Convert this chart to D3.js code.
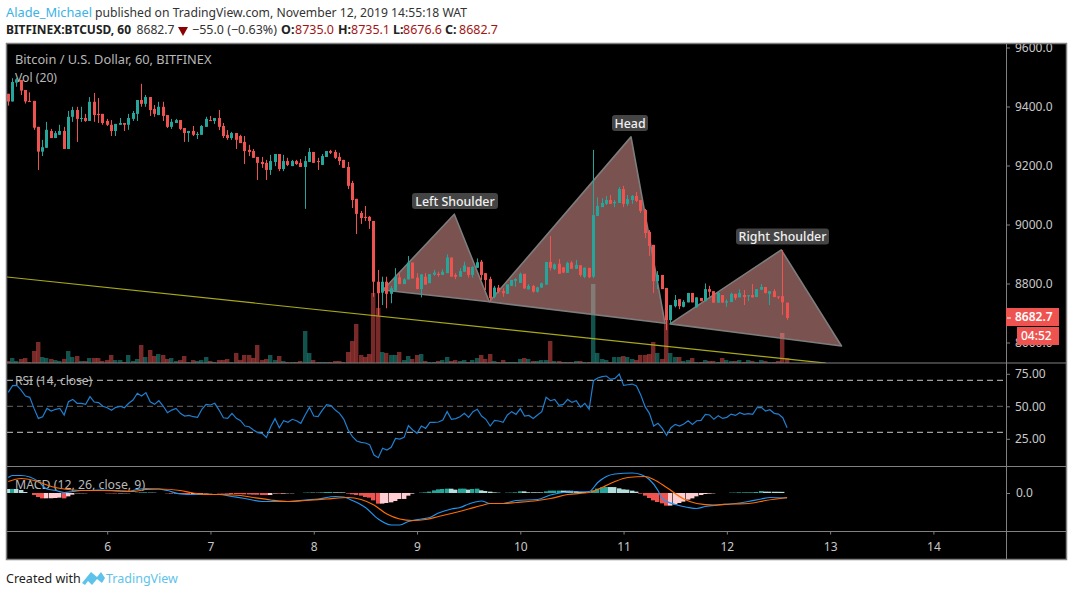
<!DOCTYPE html>
<html><head><meta charset="utf-8">
<script src="https://cdnjs.cloudflare.com/ajax/libs/d3/7.8.5/d3.min.js"></script>
<style>html,body{margin:0;padding:0;background:#fff}svg{display:block}text{font-family:"Noto Sans",sans-serif}</style>
</head><body><svg id="c" width="1073" height="596"></svg>
<script>
// Hourly candles: index 0 is day 5, 01:00
const opens=[9443,9417,9481,9490,9456,9419,9419,9331,9247,9260,
9317,9293,9304,9317,9256,9365,9388,9358,9361,9351,
9416,9375,9375,9351,9338,9317,9338,9344,9338,9358,
9375,9422,9409,9432,9392,9371,9399,9371,9331,9344,
9354,9327,9310,9317,9304,9304,9331,9354,9351,9361,
9334,9304,9293,9310,9300,9280,9253,9249,9229,9212,
9209,9185,9212,9239,9188,9215,9198,9215,9209,9195,
9212,9246,9215,9202,9229,9249,9246,9229,9219,9195,
9141,9087,9039,9026,9026,9012,8806,8769,8806,8765,
8776,8821,8798,8814,8871,8820,8781,8823,8801,8830,
8833,8829,8835,8888,8829,8823,8840,8856,8829,8853,
8874,8835,8815,8755,8786,8775,8765,8792,8809,8802,
8833,8780,8792,8772,8786,8796,8873,8849,8867,8855,
8836,8871,8850,8862,8823,8853,8823,9029,9059,9070,
9083,9072,9073,9120,9070,9083,9097,9083,9049,8975,
8931,8808,8829,8785,8676,8723,8747,8721,8736,8768,
8719,8751,8740,8781,8774,8735,8761,8735,8737,8765,
8753,8761,8757,8761,8754,8779,8788,8765,8774,8756,
8757,8735];
const highs=[9443,9496,9496,9490,9456,9448,9419,9331,9287,9348,
9324,9317,9338,9331,9385,9399,9399,9399,9375,9432,
9446,9429,9375,9358,9354,9341,9361,9344,9375,9385,
9422,9477,9439,9432,9405,9416,9416,9371,9358,9358,
9354,9327,9317,9334,9314,9337,9365,9368,9361,9388,
9344,9320,9314,9310,9304,9300,9270,9256,9229,9229,
9219,9236,9239,9239,9236,9226,9219,9219,9222,9232,
9259,9246,9226,9239,9249,9253,9253,9243,9219,9212,
9148,9087,9046,9063,9029,9012,8846,8823,8823,8792,
8852,8835,8818,8893,8871,8835,8831,8835,8832,8846,
8840,8848,8899,8888,8835,8852,8874,8856,8859,8885,
8880,8835,8823,8792,8795,8784,8797,8812,8818,8837,
8833,8798,8795,8789,8803,8873,8961,8868,8883,8855,
8874,8876,8880,8862,8854,8853,9253,9092,9089,9097,
9100,9083,9127,9131,9100,9100,9110,9083,9053,8981,
8931,8842,8829,8785,8727,8761,8747,8744,8768,8768,
8753,8751,8800,8792,8774,8772,8761,8746,8769,8765,
8780,8778,8760,8798,8781,8798,8788,8774,8781,8756,
8913,8735];
const lows=[9403,9417,9467,9439,9410,9417,9321,9185,9232,9260,
9293,9293,9304,9256,9256,9348,9280,9348,9348,9351,
9348,9344,9338,9334,9300,9300,9338,9317,9321,9351,
9351,9399,9399,9368,9365,9371,9351,9327,9324,9344,
9320,9280,9280,9300,9290,9304,9331,9351,9341,9320,
9293,9287,9287,9256,9276,9205,9232,9226,9151,9192,
9151,9168,9198,9181,9181,9198,9198,9202,9195,9053,
9212,9209,9185,9202,9229,9239,9222,9202,9192,9120,
9056,8968,9002,9012,8985,8755,8688,8727,8716,8733,
8776,8798,8798,8814,8817,8781,8753,8796,8801,8826,
8823,8829,8835,8823,8815,8823,8840,8820,8820,8853,
8812,8778,8739,8750,8767,8755,8765,8792,8789,8802,
8783,8780,8769,8769,8786,8796,8844,8846,8833,8835,
8836,8850,8850,8823,8818,8818,8818,9029,9059,9066,
9070,9059,9073,9059,9063,9070,9076,9039,8954,8893,
8768,8781,8781,8642,8662,8719,8713,8719,8736,8736,
8719,8740,8740,8755,8735,8735,8735,8721,8737,8744,
8753,8727,8740,8753,8754,8779,8766,8727,8754,8747,
8693,8677];
const closes=[9417,9483,9492,9454,9417,9417,9328,9247,9262,9321,
9293,9310,9317,9256,9365,9388,9358,9361,9351,9416,
9371,9371,9344,9338,9317,9341,9344,9338,9361,9378,
9422,9409,9432,9388,9375,9399,9368,9331,9348,9354,
9324,9310,9317,9304,9307,9334,9358,9351,9361,9331,
9300,9293,9310,9287,9276,9249,9246,9226,9209,9205,
9185,9215,9239,9188,9215,9202,9215,9205,9195,9215,
9246,9209,9212,9232,9249,9243,9226,9215,9192,9131,
9083,9036,9022,9022,9012,8806,8767,8806,8765,8784,
8823,8798,8814,8871,8817,8781,8831,8796,8832,8837,
8829,8840,8888,8823,8823,8842,8861,8829,8856,8872,
8829,8812,8750,8786,8772,8767,8797,8812,8815,8833,
8783,8792,8772,8787,8801,8873,8853,8865,8833,8837,
8870,8850,8863,8829,8854,8821,9032,9063,9073,9083,
9070,9077,9120,9070,9086,9097,9080,9046,8971,8927,
8808,8829,8781,8676,8727,8744,8723,8738,8768,8736,
8753,8740,8781,8772,8735,8768,8735,8740,8765,8751,
8768,8754,8760,8753,8781,8788,8768,8774,8754,8753,
8736,8683];
const volumes=[2,5,2,4,5,1,12,21,6,5,
4,3,2,4,12,6,7,2,2,5,
5,5,2,3,8,3,3,1,8,2,
4,18,6,13,7,9,8,4,5,2,
3,7,1,3,2,3,6,2,1,3,
3,4,1,10,3,8,8,5,18,3,
4,8,3,7,2,1,1,1,2,32,
10,3,1,1,1,1,2,2,1,11,
22,39,8,6,9,70,55,11,10,8,
8,11,3,7,4,8,9,2,1,1,
2,3,6,2,3,2,3,1,3,5,
8,4,9,2,1,3,1,1,1,4,
5,4,2,2,3,3,22,2,2,1,
1,1,2,2,1,1,79,10,4,3,
1,6,6,7,6,4,3,8,8,9,
21,10,4,43,10,6,6,2,3,5,
1,1,3,2,2,1,5,3,2,2,
3,1,3,2,1,3,2,1,1,2,
30,5];
const rsi=[60.7,65.9,66.1,62.5,57.9,56.9,48.4,40.7,42,48.4,
46.4,47.7,48.4,43.3,53.5,55.3,52.3,52.3,51.5,57.4,
53.3,52.8,50,48.9,46.9,49.2,50,48.9,52.3,54.8,
60,57.9,60.5,53.5,51.5,54.3,50.2,45.1,47.1,48.4,
44.6,42.5,43,42,41.5,47.7,51.5,51,52.3,47.1,
41.2,40.7,44.6,40.7,38.9,34.8,34.3,31.8,29.7,29.2,
26.1,34.3,40.5,33.5,38.9,37.7,40,38.9,36.9,43.3,
49.2,42.5,42,47.1,51.2,50.5,47.1,44.6,40,31.8,
26.6,23.3,22.3,21.8,20.5,12.5,10.5,17.7,16.4,18.4,
25.3,24.8,26.1,35.1,31.8,29.2,34.8,33,37.7,37.7,
37.9,39.4,45.9,40,40.5,42,44.6,41.5,45.9,47.7,
42.5,40,34.8,39.2,38.7,37.7,43.3,45.9,43.8,48.2,
42.5,43,40.7,43.3,45.9,56.9,54.3,55.3,50.7,51.5,
55.3,53,54.3,49.4,52.3,47.7,69.7,71.8,72.8,73.3,
70.7,71.5,74.8,66.1,66.6,67.1,65.6,58.7,49.7,44.6,
34.8,36.9,33,27.6,33.5,36.1,34.8,36.4,38.9,36.1,
38.9,39.2,43.8,43.3,40,42.8,40.7,41.5,44,43,
45.1,43.8,44.3,43.8,48.9,49.2,46.4,47.4,44.6,44,
41.2,33.5];
const hist=[8,8.1,8,6,2,0,-4,-8,-10.7,-10.6,
-10.5,-10,-9.3,-10.7,-6.7,-3.3,-.7,-.6,-.5,0,
0,0,0,-.7,-.8,-.9,-.8,-.6,-.5,0,
.7,1.3,1.4,.7,.6,0,0,-.7,-1.3,-1.4,
-2,-2.1,-2.2,-2.1,-2,-1.5,-1,-.5,0,-.7,
-.8,-1.3,-2,-2.1,-2.2,-2.7,-2.8,-3.3,-3.4,-4,
-4.1,-4,-1,-1.3,-1.2,-.7,-.6,0,0,.7,
.8,.7,.6,1.3,2,2.1,1.3,1.2,1.1,-1.3,
-2.7,-4,-5.3,-8,-9.3,-14.7,-21.3,-21.2,-20,-18.7,
-16,-12,-11.9,-5.3,-1.3,0,.7,1.3,2.7,5.3,
7.3,8,8.7,8.6,6.7,8.7,8.7,6.7,8,8.7,
5.3,4,2.7,1.3,.7,0,.7,.7,1.3,3.4,
3.3,1.5,1.4,1.3,1.2,3.3,4.7,4.7,4.8,4.7,
4.6,4.5,4,2,1.9,.7,5.3,8.7,11.3,12,
11.9,11.8,9.3,7.3,6.7,4.7,2.7,-1.3,-5.3,-10,
-14.7,-18,-20.7,-25.3,-25.2,-22.7,-20,-17.3,-13.3,-10.7,
-6.7,-4,-2,-1.3,-.7,0,0,0,.7,.7,
1.3,1.3,1.3,1.3,2,4,2.7,2.6,2.5,2.4,
2.3,0];
// MACD and signal lines, read at the candle indexes given
const macdIdx=[0,1,3,5,7,9,11,13,15,17,19,21,24,28,30,32,35,37,40,43,46,49,52,55,59,65,69,72,76,78,80,83,86,89,91,93,96,98,100,103,105,107,110,112,115,118,123,126,130,135,137,139,141,145,147,149,151,152,155,158,160,162,165,169,172,175,177,181];
const macdVal=[31,35,35,32,23,8,5,1,3,5,5,6,5,3,7,9,8,5,-2,-3,-3,-3,-7,-11,-17,-17,-14,-12,-7,-8,-15,-29,-52,-64,-64,-57,-52,-49,-40,-32,-29,-22,-16,-21,-21,-15,-13,-4,2,3,21,33,38,40,37,27,5,-11,-23,-29,-31,-27,-24,-21,-17,-12,-9,-10];
const signalIdx=[0,3,6,9,11,14,17,21,26,29,32,35,40,43,46,49,54,57,61,65,69,74,79,82,85,88,91,94,97,100,103,107,110,112,115,118,123,126,130,135,138,141,144,148,150,153,157,160,164,168,172,176,181];
const signalVal=[23,29,25,16,11,7,5,5,4,3,7,8,5,0,-3,-3,-5,-9,-14,-17,-15,-12,-9,-13,-24,-42,-52,-55,-53,-47,-41,-32,-25,-21,-21,-19,-15,-11,-3,1,11,23,31,33,27,11,-12,-21,-24,-22,-21,-15,-9];
// Drawings: [day, price]
const leftShoulder=[[8.67,8778],[9.361,9035],[9.70,8738]];
const headShape=[[9.70,8738],[11.072,9297],[11.401,8665]];
const rightShoulder=[[11.45,8663],[12.527,8914],[13.11,8588]];
const trendLine=[[5.03,8822],[12.96,8530]];
const shapeLabels=["Left Shoulder","Head","Right Shoulder"];
const priceTicks=[9600,9400,9200,9000,8800,8600];
const rsiTicks=[75,50,25];
const rsiLevels=[70,50,30];
const dayTicks=[6,7,8,9,10,11,12,13,14];

const svg=d3.select("#c");
const L=7,R=1006,AR=1066,T=44,P1=363,P2=466.5,P3=531.5,B=559;
const x=d3.scaleLinear().domain([6,14]).range([107.2,933.4]);
const day=i=>5+(i+1)/24;
const y=d3.scaleLinear().domain([8800,9600]).range([283.5,47.5]);
const yV=d3.scaleLinear().domain([0,100]).range([P1,P1-100]);
const yR=d3.scaleLinear().domain([30,70]).range([432.3,380.3]);
const yM=d3.scaleLinear().domain([-40,40]).range([513,473]);
const RED="#ef5350",TEAL="#26a69a";

svg.append("rect").attr("x",L).attr("y",T).attr("width",AR-L).attr("height",B-T).attr("fill","#000");
const defs=svg.append("defs");
[["p1",T,P1],["p2",P1,P2],["p3",P2,P3]].forEach(([id,a,b])=>defs.append("clipPath").attr("id",id).append("rect").attr("x",L).attr("y",a).attr("width",R-L).attr("height",b-a));
const idx=d3.range(opens.length);
const up=i=>closes[i]>=opens[i];

// legends under the marks
const legend=[["Bitcoin / U.S. Dollar, 60, BITFINEX",15,64,12.8],["Vol (20)",15,82,12.2],["RSI (14, close)",15,385,12],["MACD (12, 26, close, 9)",15,489,12.3]];
svg.append("g").selectAll("text").data(legend).join("text").attr("x",d=>d[1]).attr("y",d=>d[2]).attr("fill","#b8b8b8").attr("font-size",d=>d[3]).text(d=>d[0]);

// price pane
const g1=svg.append("g").attr("clip-path","url(#p1)");
g1.selectAll("rect.v").data(idx).join("rect").attr("class","v")
 .attr("x",i=>Math.floor(x(day(i)))-2).attr("width",4.4)
 .attr("y",i=>yV(volumes[i])).attr("height",i=>P1-yV(volumes[i]))
 .attr("fill",i=>up(i)?"rgba(38,166,154,.5)":"rgba(239,83,80,.5)");
const line=d3.line().x(d=>x(d[0])).y(d=>y(d[1]));
[leftShoulder,headShape,rightShoulder].forEach(s=>{
 g1.append("path").attr("d",line(s)+"Z").attr("fill","rgba(244,164,160,.5)").attr("stroke","#7d7d7d").attr("stroke-width",1.6).attr("stroke-linejoin","round");
});
g1.append("path").attr("d",line(trendLine)).attr("fill","none").attr("stroke","#a9a918").attr("stroke-width",1.2);
g1.selectAll("rect.w").data(idx).join("rect").attr("class","w")
 .attr("x",i=>Math.floor(x(day(i)))).attr("width",1)
 .attr("y",i=>y(highs[i])).attr("height",i=>Math.max(1,y(lows[i])-y(highs[i])))
 .attr("fill",i=>up(i)?TEAL:RED);
g1.selectAll("rect.b").data(idx).join("rect").attr("class","b")
 .attr("x",i=>Math.floor(x(day(i)))-1).attr("width",3)
 .attr("y",i=>y(Math.max(opens[i],closes[i]))).attr("height",i=>Math.max(1,Math.abs(y(opens[i])-y(closes[i]))))
 .attr("fill",i=>up(i)?TEAL:RED);

// shape labels
const labelBox=[[455,201,86],[630,123,36],[782.5,236.5,93]];
shapeLabels.forEach((t,k)=>{
 const [xc,cy,w]=labelBox[k];
 svg.append("rect").attr("x",xc-w/2).attr("y",cy-8).attr("width",w).attr("height",16).attr("rx",3).attr("fill","#444");
 svg.append("text").attr("x",xc).attr("y",cy+4.5).attr("text-anchor","middle").attr("fill","#f0f0f0").attr("font-size",12.4).attr("font-weight",500).text(t);
});

// RSI pane
const g2=svg.append("g").attr("clip-path","url(#p2)");
rsiLevels.forEach(v=>g2.append("line").attr("x1",L).attr("x2",R).attr("y1",yR(v)).attr("y2",yR(v)).attr("stroke",v==50?"#666":"#c8c8c8").attr("stroke-dasharray","6,4"));
g2.append("path").attr("d",d3.line().x(i=>x(day(i))).y(i=>yR(rsi[i]))(idx)).attr("fill","none").attr("stroke","#1f7fd0").attr("stroke-width",1.2);

// MACD pane
const g3=svg.append("g").attr("clip-path","url(#p3)");
const hc=i=>{const v=hist[i],p=i?hist[i-1]:0;return v>=0?(v>=p&&i?TEAL:"#b2dfdb"):(v<p?RED:"#ffcdd2");};
g3.selectAll("rect").data(idx.filter(i=>hist[i]!=0)).join("rect")
 .attr("x",i=>Math.floor(x(day(i)))-2).attr("width",4.4)
 .attr("y",i=>Math.min(yM(0),yM(hist[i]))).attr("height",i=>Math.abs(yM(hist[i])-yM(0)))
 .attr("fill",hc);
g3.append("path").attr("d",d3.line().curve(d3.curveMonotoneX).x(i=>x(day(macdIdx[i]))).y(i=>yM(macdVal[i]))(d3.range(macdIdx.length))).attr("fill","none").attr("stroke","#2196f3").attr("stroke-width",1.2);
g3.append("path").attr("d",d3.line().curve(d3.curveMonotoneX).x(i=>x(day(signalIdx[i]))).y(i=>yM(signalVal[i]))(d3.range(signalIdx.length))).attr("fill","none").attr("stroke","#ff6d00").attr("stroke-width",1.2);

// axes
function styleAxis(g){g.select(".domain").remove();g.selectAll("line").attr("stroke","#808080");g.selectAll("text").attr("fill","#c8c8c8").attr("font-size",12).attr("font-family",'"Noto Sans",sans-serif');}
svg.append("g").attr("transform",`translate(${R},0)`).call(d3.axisRight(y).tickValues(priceTicks).tickSize(4).tickPadding(5).tickFormat(d3.format(".1f"))).call(styleAxis);
svg.append("g").attr("transform",`translate(${R},0)`).call(d3.axisRight(yR).tickValues(rsiTicks).tickSize(4).tickPadding(5).tickFormat(d3.format(".2f"))).call(styleAxis);
svg.append("g").attr("transform",`translate(${R},0)`).call(d3.axisRight(yM).tickValues([0]).tickSize(4).tickPadding(6).tickFormat(d3.format(".1f"))).call(styleAxis);
svg.append("g").attr("transform",`translate(0,${P3})`).call(d3.axisBottom(x).tickValues(dayTicks).tickSize(3).tickPadding(8).tickFormat(d3.format("d"))).call(styleAxis);

// frame
const fr=svg.append("g").attr("stroke","#808080").attr("fill","none");
fr.append("rect").attr("x",L-.5).attr("y",T-.5).attr("width",AR-L+1).attr("height",B-T+1).attr("stroke-width",1.5);
[P1,P2,P3].forEach(v=>fr.append("line").attr("x1",L).attr("x2",AR).attr("y1",v).attr("y2",v));
fr.append("line").attr("x1",R+.5).attr("x2",R+.5).attr("y1",T).attr("y2",B);

// last price
const ly=y(closes[closes.length-1]);
svg.append("rect").attr("x",R).attr("y",308).attr("width",53).attr("height",18).attr("fill",RED);
svg.append("line").attr("x1",R+1).attr("x2",R+5).attr("y1",ly).attr("y2",ly).attr("stroke","#fff");
svg.append("text").attr("x",R+9).attr("y",321).attr("fill","#fff").attr("font-size",12).attr("font-weight",600).text(d3.format(".1f")(8682.7));
svg.append("rect").attr("x",1017).attr("y",327).attr("width",42).attr("height",18).attr("fill",RED);
svg.append("text").attr("x",1021).attr("y",340).attr("fill","#fff").attr("font-size",12).attr("font-weight",500).text("04:52");

// header
const h=(t,xx,yy,fill,w,tl)=>{const s=svg.append("text").attr("x",xx).attr("y",yy).attr("fill",fill).attr("font-size",12.5).attr("font-weight",w||400).text(t);if(tl)s.attr("textLength",tl).attr("lengthAdjust","spacingAndGlyphs");return s;};
h("Alade_Michael",6,17,"#3bb3e4",400,86);
h("published on TradingView.com, November 12, 2019 14:55:18 WAT",95,17,"#333",400,372);
h("BITFINEX:BTCUSD, 60",6,34,"#222",700,125);
h("8682.7",136.5,34,"#333",400,38);
svg.append("path").attr("d","M178,27h10l-5,9z").attr("fill","#8b0000");
h("−55.0 (−0.63%)",192,34,"#333",400,85);
[["O:",281,"8735.0",295],["H:",338,"8735.1",351],["L:",393,"8676.6",403],["C:",445,"8682.7",459]].forEach(d=>{h(d[0],d[1],34,"#222",700);h(d[2],d[3],34,"#a31515",400,39);});

// footer
svg.append("path").attr("d","M82,583l9,-11 6,5 4,-5 4,6 -3,5 -5,-4 -5,6 -4,-4 -3,4z").attr("fill","#5ec3ea");
svg.append("text").attr("x",6).attr("y",583).attr("fill","#222").attr("font-size",12.5).text("Created with");
svg.append("text").attr("x",106).attr("y",583).attr("fill","#5ec3ea").attr("font-size",12.5).text("TradingView");
</script></body></html>
